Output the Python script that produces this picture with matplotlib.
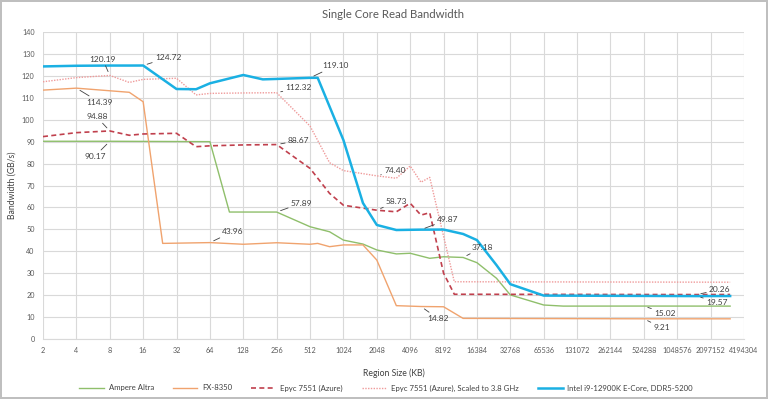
import numpy as np
from matplotlib import pyplot as plt
from matplotlib.ticker import FixedLocator, NullLocator, FixedFormatter

# Region size (KB) and bandwidth (GB/s)
ampere_kb = [2, 8, 64, 96, 256, 512, 768, 1024, 1536, 2048, 3072, 4096, 6144, 8192,
             12288, 16384, 24576, 32768, 65536, 98304, 524288, 3145728]
ampere_bw = [90.17, 90.17, 90.0, 57.9, 57.89, 51.2, 48.9, 45.1, 43.3, 40.6, 38.8, 39.1, 36.8, 37.5,
             37.18, 34.8, 27.7, 20.1, 15.5, 15.0, 15.02, 15.0]

fx_kb = [2, 4, 8, 12, 16, 24, 64, 128, 256, 512, 600, 768, 1024, 1536, 2048, 3072, 5120, 8192,
         12288, 524288, 3145728]
fx_bw = [113.5, 114.39, 113.2, 112.5, 108.2, 43.6, 43.96, 43.2, 43.9, 43.2, 43.6, 42.1, 42.9, 42.9,
         36.0, 15.2, 14.82, 14.7, 9.4, 9.21, 9.2]

epyc_kb = [2, 4, 8, 12, 16, 32, 48, 64, 128, 256, 512, 768, 1024, 2048, 3072, 4096, 5120, 6144,
           8192, 10240, 1572864, 3145728]
epyc_bw = [92.3, 94.1, 94.88, 92.9, 93.5, 93.8, 87.7, 88.1, 88.5, 88.67, 77.8, 66.4, 61.0, 58.73,
           58.0, 61.9, 56.5, 57.6, 30.0, 20.4, 20.26, 20.3]

epyc38_kb = [2, 4, 8, 12, 16, 32, 48, 64, 128, 256, 512, 768, 1024, 2048, 3072, 4096, 5120, 6144,
             10240, 3145728]
epyc38_bw = [117.3, 119.2, 120.19, 117.0, 118.4, 118.9, 111.3, 112.0, 112.2, 112.32, 97.1, 80.4,
             76.8, 74.40, 73.3, 78.9, 71.5, 73.7, 26.1, 25.9]

intel_kb = [2, 4, 8, 12, 16, 32, 48, 64, 128, 192, 256, 512, 600, 1024, 1536, 2048, 3072, 4096,
            5120, 8192, 12288, 16384, 24576, 32768, 65536, 1572864, 3145728]
intel_bw = [124.3, 124.6, 124.7, 124.7, 124.72, 114.0, 113.9, 116.6, 120.4, 118.4, 118.6, 119.10,
            119.1, 90.7, 62.0, 52.0, 49.7, 49.8, 49.87, 49.9, 47.9, 45.1, 33.7, 25.0, 19.8, 19.57, 19.6]

x_ticks = [2 ** k for k in range(1, 23)]

# labelled points: (kb, value, text offset in pixels)
labels = [
    (8, 120.19, (-7, 16)), (16, 124.72, (25, 8)), (4, 114.39, (23, -14)),
    (8, 94.88, (-13, 14)), (8, 90.17, (-15, -15)), (64, 43.96, (23, 11)),
    (256, 57.89, (25, 9)), (256, 112.32, (22, 5)), (256, 88.67, (22, 4)),
    (512, 119.10, (25, 12)), (2048, 74.40, (18, 5)), (2048, 58.73, (20, 9)),
    (5120, 49.87, (27, 10)), (12288, 37.18, (19, 10)), (5120, 14.82, (17, -12)),
    (1572864, 20.26, (23, 5)), (1572864, 19.57, (20, -6)),
    (524288, 15.02, (21, -7)), (524288, 9.21, (18, -9)),
]

plt.rcParams['font.family'] = ['Lato', 'DejaVu Sans']
txt = '#595959'

fig = plt.figure(figsize=(7.68, 3.99), dpi=100)
fig.patch.set_edgecolor('#bfbfbf')
fig.patch.set_linewidth(1.5)
ax = fig.add_axes([43 / 768, 60 / 399, 701 / 768, 307 / 399])

ax.plot(ampere_kb, ampere_bw, color='#8fbf6b', lw=1.0, label='Ampere Altra')
ax.plot(fx_kb, fx_bw, color='#f0a36e', lw=1.0, label='FX-8350')
ax.plot(epyc_kb, epyc_bw, color='#c0404d', lw=1.2, ls=(0, (3, 2)), label='Epyc 7551 (Azure)')
ax.plot(epyc38_kb, epyc38_bw, color='#ef9a9a', lw=1.0, ls=(0, (1, 1)),
        label='Epyc 7551 (Azure), Scaled to 3.8 GHz')
ax.plot(intel_kb, intel_bw, color='#1ab0e3', lw=1.8, label='Intel i9-12900K E-Core, DDR5-5200')

for kb, val, off in labels:
    ax.annotate(f'{val:.2f}', xy=(kb, val), xytext=off, textcoords='offset pixels',
                ha='center', va='center', fontsize=6, color='#404040',
                arrowprops=dict(arrowstyle='-', color='#404040', lw=0.6, shrinkA=0, shrinkB=3))

ax.set_xscale('log', base=2)
ax.set_xlim(2, 4194304)
ax.set_ylim(0, 140)
ax.xaxis.set_major_locator(FixedLocator(x_ticks))
ax.xaxis.set_major_formatter(FixedFormatter([str(v) for v in x_ticks]))
ax.xaxis.set_minor_locator(NullLocator())
ax.set_yticks(np.arange(0, 141, 10))
ax.grid(True, color='#d9d9d9', lw=0.8)
ax.set_axisbelow(True)
for s in ['top', 'right', 'left']:
    ax.spines[s].set_visible(False)
ax.spines['bottom'].set_color('#d9d9d9')
ax.tick_params(length=0, labelsize=5.2, labelcolor=txt, pad=6)

ax.set_title('Single Core Read Bandwidth', fontsize=8.2, color=txt, pad=10)
ax.set_xlabel('Region Size (KB)', fontsize=6.2, color='#404040', labelpad=10)
ax.set_ylabel('Bandwidth (GB/s)', fontsize=6.2, color='#404040', va='center')
ax.yaxis.set_label_coords(-31 / 701, 0.5)

fig.legend(loc='center', bbox_to_anchor=(386 / 768, 1 - 388 / 399), ncol=5, frameon=False,
           fontsize=5.6, labelcolor='#404040', handlelength=3.2, handletextpad=0.6,
           columnspacing=2.4)

plt.savefig('out.png', dpi=100, edgecolor=fig.get_edgecolor())
